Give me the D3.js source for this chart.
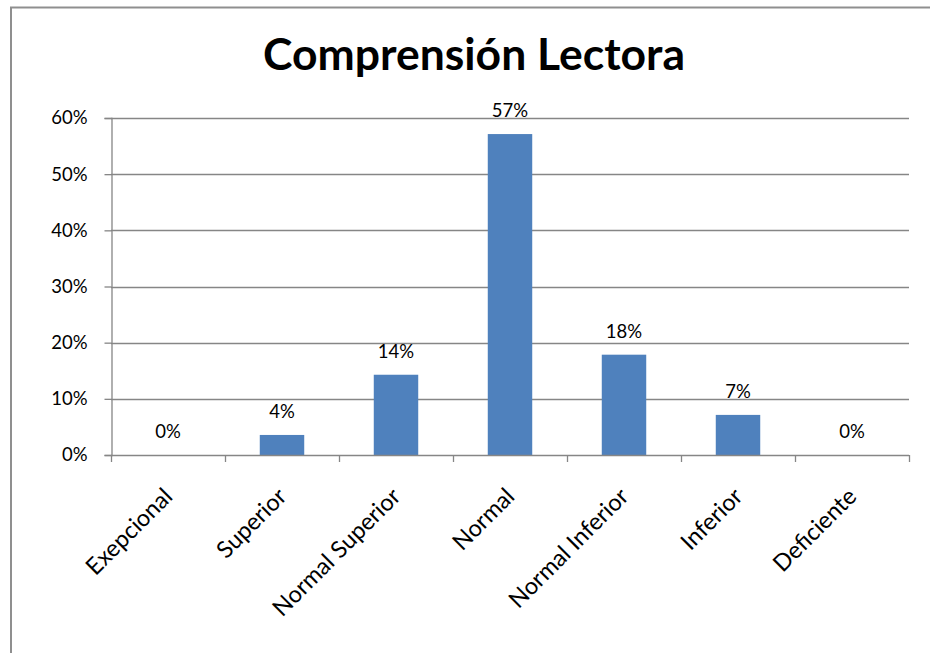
<!DOCTYPE html>
<html>
<head>
<meta charset="utf-8">
<script src="https://cdn.jsdelivr.net/npm/d3@7"></script>
<style>
  html, body { margin: 0; padding: 0; background: #fff; }
  svg { display: block; }
  text { font-family: Lato, "Open Sans", "Liberation Sans", sans-serif; fill: #000; }
</style>
</head>
<body>
<svg id="chart" width="930" height="653"></svg>
<script>
// Reading comprehension results by level (share of students)
const chartTitle = "Comprensión Lectora";
const categories = ["Exepcional", "Superior", "Normal Superior", "Normal", "Normal Inferior", "Inferior", "Deficiente"];
const shares = [0, 0.0357, 0.1429, 0.5714, 0.1786, 0.0714, 0];
const yTicks = [0, 0.1, 0.2, 0.3, 0.4, 0.5, 0.6];

const W = 930, H = 653;
const plot = { left: 111, right: 909, top: 118, bottom: 455 };
const gridColor = "#868686";
const barColor = "#4F81BD";
const pct = d3.format(".0%");

const svg = d3.select("#chart");

// chart frame
svg.append("rect")
  .attr("x", 11).attr("y", 7.5)
  .attr("width", W + 20).attr("height", H + 20)
  .attr("fill", "#fff")
  .attr("stroke", "#8f8f8f").attr("stroke-width", 2);

const x = d3.scaleBand().domain(categories).range([plot.left, plot.right]).padding(0);
const y = d3.scaleLinear().domain([0, 0.6]).range([plot.bottom, plot.top]);

// title, fitted to its box width
const title = svg.append("text")
  .attr("x", 474).attr("y", 70)
  .attr("text-anchor", "middle")
  .style("font-weight", "bold")
  .style("font-size", "36px")
  .text(chartTitle);
const tw = title.node().getComputedTextLength();
title.style("font-size", (36 * 422 / tw) + "px");

// horizontal gridlines
svg.append("g")
  .selectAll("line")
  .data(yTicks.filter(d => d > 0))
  .join("line")
  .attr("x1", plot.left).attr("x2", plot.right)
  .attr("y1", d => Math.round(y(d)) + 0.5).attr("y2", d => Math.round(y(d)) + 0.5)
  .attr("stroke", gridColor).attr("stroke-width", 1.3);

// y axis
const yAxis = d3.axisLeft(y).tickValues(yTicks).tickFormat(pct).tickSize(7).tickPadding(17);
const gy = svg.append("g").attr("transform", `translate(${plot.left + 0.5},0)`).call(yAxis);
gy.select(".domain").attr("stroke", gridColor).attr("stroke-width", 1.3);
gy.selectAll(".tick line").attr("stroke", gridColor).attr("stroke-width", 1.3);
gy.selectAll(".tick text")
  .style("font-size", "18.5px").style("font-family", "Lato, 'Open Sans', sans-serif")
  .attr("fill", "#000");

// bars
const barW = x.bandwidth() * 0.39;
svg.append("g")
  .selectAll("rect")
  .data(shares)
  .join("rect")
  .attr("x", (d, i) => x(categories[i]) + (x.bandwidth() - barW) / 2)
  .attr("y", d => y(d))
  .attr("width", barW)
  .attr("height", d => y(0) - y(d))
  .attr("fill", barColor);

// x axis baseline with tick marks at category boundaries
const gx = svg.append("g");
gx.append("line")
  .attr("x1", plot.left).attr("x2", plot.right)
  .attr("y1", plot.bottom + 0.5).attr("y2", plot.bottom + 0.5)
  .attr("stroke", gridColor).attr("stroke-width", 1.3);
const edges = categories.map(c => x(c)).concat([x(categories[categories.length - 1]) + x.bandwidth()]);
gx.selectAll("line.tk")
  .data(edges)
  .join("line")
  .attr("class", "tk")
  .attr("x1", d => d + 0.5).attr("x2", d => d + 0.5)
  .attr("y1", plot.bottom).attr("y2", plot.bottom + 7)
  .attr("stroke", gridColor).attr("stroke-width", 1.3);

// rotated category labels
gx.selectAll("text")
  .data(categories)
  .join("text")
  .attr("text-anchor", "end")
  .attr("transform", d => `translate(${x(d) + x.bandwidth() / 2 + 6},${plot.bottom + 43}) rotate(-45)`)
  .style("font-size", "23.5px")
  .text(d => d);

// value labels above bars
svg.append("g")
  .selectAll("text")
  .data(shares)
  .join("text")
  .attr("x", (d, i) => x(categories[i]) + x.bandwidth() / 2)
  .attr("y", d => y(d) - 17)
  .attr("text-anchor", "middle")
  .style("font-size", "18.5px")
  .text(d => pct(d));
</script>
</body>
</html>
